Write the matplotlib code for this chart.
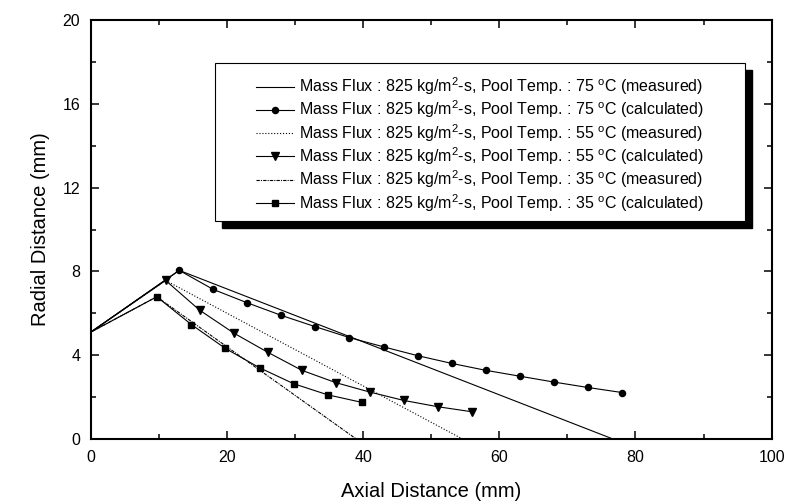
#!/usr/bin/env python3
import matplotlib
matplotlib.use("Agg")
import matplotlib.pyplot as plt
from matplotlib.lines import Line2D
from matplotlib.patches import Rectangle
from matplotlib.ticker import MultipleLocator

plt.rcParams['font.family'] = ['Liberation Sans', 'DejaVu Sans']
plt.rcParams['mathtext.fontset'] = 'custom'
plt.rcParams['mathtext.rm'] = 'Liberation Sans'
plt.rcParams['mathtext.it'] = 'Liberation Sans:italic'

# measured jet boundaries (start, peak, end on axis)
x_75_meas = [0, 13.0, 76.7]
y_75_meas = [5.1, 8.05, 0]
x_55_meas = [0, 11.0, 54.6]
y_55_meas = [5.1, 7.57, 0]
x_35_meas = [0, 9.7, 39.0]
y_35_meas = [5.1, 6.79, 0]

# calculated
x_75_calc = [0, 13, 18, 23, 28, 33, 38, 43, 48, 53, 58, 63, 68, 73, 78]
y_75_calc = [5.1, 8.05, 7.14, 6.5, 5.9, 5.36, 4.84, 4.40, 3.98, 3.61, 3.28, 3.0, 2.72, 2.46, 2.22]
x_55_calc = [0, 11, 16, 21, 26, 31, 36, 41, 46, 51, 56]
y_55_calc = [5.1, 7.57, 6.15, 5.06, 4.14, 3.28, 2.69, 2.24, 1.84, 1.54, 1.30]
x_35_calc = [0, 9.7, 14.8, 19.75, 24.8, 29.8, 34.8, 39.8]
y_35_calc = [5.1, 6.79, 5.46, 4.33, 3.40, 2.64, 2.11, 1.75]


def label(t, kind):
    return (r'Mass Flux : 825 kg/m$^{2}$-s, Pool Temp. : ' + t +
            r' $^{\mathrm{o}}$C (' + kind + ')')


fig = plt.figure(figsize=(7.9, 5.03), dpi=100)
ax = fig.add_axes([0.1148, 0.1272, 0.862, 0.833])

lw = 0.8
ms = 4.4
dashdot = (0, (3, 1, 1, 1))
styles = [
    dict(linestyle='-', marker=None, ms=ms),
    dict(linestyle='-', marker='o', ms=ms),
    dict(linestyle=':', marker=None, ms=ms),
    dict(linestyle='-', marker='v', ms=ms + 0.8),
    dict(linestyle=dashdot, marker=None, ms=ms),
    dict(linestyle='-', marker='s', ms=ms),
]
series = [
    (x_75_meas, y_75_meas, label('75', 'measured')),
    (x_75_calc, y_75_calc, label('75', 'calculated')),
    (x_55_meas, y_55_meas, label('55', 'measured')),
    (x_55_calc, y_55_calc, label('55', 'calculated')),
    (x_35_meas, y_35_meas, label('35', 'measured')),
    (x_35_calc, y_35_calc, label('35', 'calculated')),
]

handles = []
for (xs, ys, lab), st in zip(series, styles):
    ax.plot(xs, ys, color='black', lw=lw, markevery=slice(1, None), **st)
    handles.append(Line2D([], [], color='black', lw=lw, label=lab, **st))

ax.set_xlim(0, 100)
ax.set_ylim(0, 20)
ax.xaxis.set_major_locator(MultipleLocator(20))
ax.xaxis.set_minor_locator(MultipleLocator(10))
ax.yaxis.set_major_locator(MultipleLocator(4))
ax.yaxis.set_minor_locator(MultipleLocator(2))
ax.tick_params(which='both', direction='in', top=True, right=True, width=1.1, labelsize=11.5)
ax.tick_params(which='major', length=5.8)
ax.tick_params(which='minor', length=3.6)
ax.tick_params(axis='y', pad=7.5)
ax.tick_params(axis='x', pad=8)
for s in ax.spines.values():
    s.set_linewidth(1.5)

ax.set_xlabel('Axial Distance (mm)', fontsize=14.5, labelpad=12.5)
ax.set_ylabel('Radial Distance (mm)', fontsize=14.5, labelpad=9)

# legend box with solid black drop shadow
bx, by, bw, bh = 0.1825, 0.5215, 0.7783, 0.3765
dx, dy = 0.0103, 0.0167
ax.add_patch(Rectangle((bx + dx, by - dy), bw, bh, transform=ax.transAxes,
                       facecolor='black', edgecolor='black', zorder=4.8, clip_on=False))
ax.add_patch(Rectangle((bx, by), bw, bh, transform=ax.transAxes,
                       facecolor='white', edgecolor='black', lw=0.8, zorder=4.9, clip_on=False))
leg = ax.legend(handles=handles, loc='center', bbox_to_anchor=(bx + bw / 2, by + bh / 2 - 0.007),
                frameon=False, fontsize=11.5, handlelength=2.4, handletextpad=0.3,
                labelspacing=0.1, borderpad=0)
leg.set_zorder(6)

fig.savefig('out.png', dpi=100)
